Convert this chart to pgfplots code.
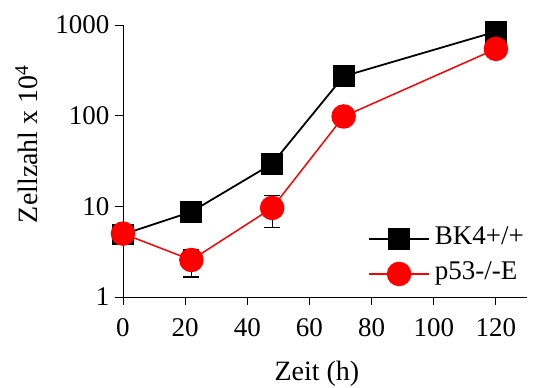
\documentclass[border=0pt]{standalone}
\usepackage{pgfplots}
\pgfplotsset{compat=1.18}
\usepackage{fontspec}
\setmainfont{Liberation Serif}

\definecolor{pred}{RGB}{255,0,0}

\begin{document}
\begin{tikzpicture}[font=\fontsize{28bp}{32bp}\selectfont]
\begin{axis}[
  scale only axis,
  width=412bp, height=272bp,
  xmin=-2.57, xmax=130,
  ymode=log, ymin=1, ymax=1000,
  axis x line=bottom,
  axis y line=center,
  hide obscured x ticks=false,
  hide obscured y ticks=false,
  axis line style={-, line width=0.9pt, black},
  tick style={line width=0.9pt, black},
  tick align=outside,
  major tick length=8bp,
  yminorticks=false,
  xtick={0,20,40,60,80,100,120},
  ytick={1,10,100,1000},
  yticklabels={1,10,100,1000},
  yticklabel pos=left,
  /pgf/number format/assume math mode=true,
  tick label style={font=\fontsize{27bp}{32bp}\selectfont},
  label style={font=\fontsize{28bp}{32bp}\selectfont},
  xticklabel style={yshift=-10bp},
  yticklabel style={xshift=-2bp},
  every axis y label/.style={at={(axis description cs:-0.189,0.5625)}, rotate=90, anchor=base},
  every axis x label/.style={at={(axis description cs:0.49,-0.306)}, anchor=base},
  xlabel={Zeit (h)},
  ylabel={Zellzahl x 10\textsuperscript{4}},
  clip=false,
  legend image code/.code={\draw[mark repeat=2,mark phase=2,#1] plot coordinates {(0bp,0bp) (30bp,0bp) (60bp,0bp)};},
  legend style={draw=none, fill=none, inner sep=0pt,
    font=\fontsize{27bp}{32bp}\selectfont,
    at={(axis description cs:0.614,0.149)}, anchor=west,
    row sep=11bp, column sep=2bp,
    nodes={inner ysep=0bp, inner xsep=3bp, text height=18bp, text depth=6bp}},
  legend cell align=left,
]
\addplot[black, line width=1.8pt, mark=square*, mark size=10bp, mark options={solid, fill=black}]
  coordinates {(0,4.9) (22,8.7) (48,29.5) (71,272) (120,845)};
\addlegendentry{BK4+/+}
\addplot[pred, line width=1.5pt, mark=*, mark size=11.5bp, mark options={solid, fill=pred, draw=pred},
  error bars/.cd, y dir=both, y explicit,
  error bar style={black, line width=1.2pt},
  error mark options={rotate=90, mark size=8bp, black, line width=1.2pt}]
  coordinates {(0,5.0) (22,2.56) += (0,0.74) -= (0,0.9) (48,9.6) += (0,3.7) -= (0,3.7) (71,98) (120,545)};
\addlegendentry{p53-/-E}
\end{axis}
\pgfresetboundingbox
\path[use as bounding box] (-115bp,-91bp) rectangle (418bp,297bp);
\end{tikzpicture}
\end{document}
